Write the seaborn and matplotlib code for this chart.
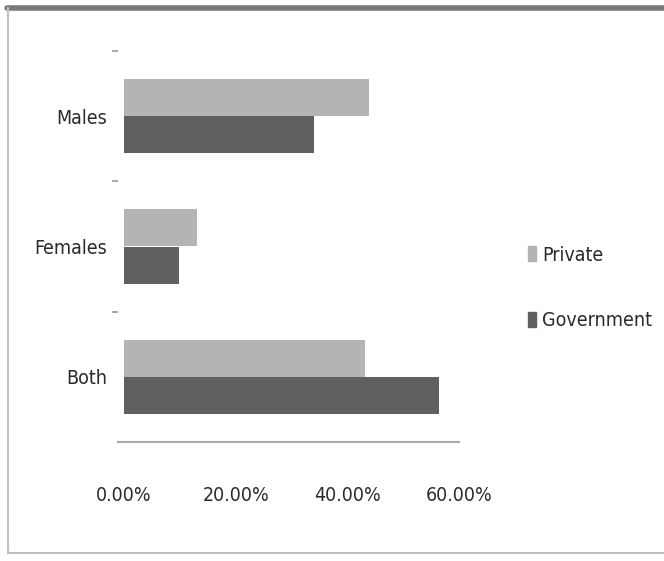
import pandas as pd
import seaborn as sns
import matplotlib.pyplot as plt
from matplotlib.lines import Line2D
from matplotlib.ticker import FuncFormatter, FixedLocator

# Data
groups = ['Males', 'Females', 'Both']
private = [0.439, 0.130, 0.432]
government = [0.341, 0.098, 0.564]
sectors = ['Private', 'Government']
colors = ['#b3b4b3', '#5f605f']

df = pd.DataFrame({
    'group': groups * 2,
    'sector': ['Private'] * 3 + ['Government'] * 3,
    'share': private + government,
})

sns.set_style('white')
plt.rcParams['font.family'] = ['DejaVu Sans']
plt.rcParams['font.stretch'] = 'condensed'

fig = plt.figure(figsize=(6.64, 5.61), dpi=100)
ax = fig.add_axes([118 / 664, 119 / 561, 341 / 664, 391 / 561])

sns.barplot(data=df, y='group', x='share', hue='sector', hue_order=sectors,
            order=groups, palette=colors, orient='h', width=0.57,
            saturation=1, linewidth=0, ax=ax, legend=False)

ax.set_xlim(-0.0107, 0.6)
ax.set_ylim(2.5, -0.5)
ax.set_xticks([0, 0.2, 0.4, 0.6])
ax.xaxis.set_major_formatter(FuncFormatter(lambda v, p: f'{v * 100:.2f}%'))
ax.tick_params(axis='x', length=0, pad=32, labelsize=14, labelcolor='#2a2a2a')
ax.tick_params(axis='y', which='major', length=0, pad=8, labelsize=14,
               labelcolor='#2a2a2a')
ax.yaxis.set_minor_locator(FixedLocator([-0.5, 0.5, 1.5]))
ax.tick_params(axis='y', which='minor', length=4, width=1.2, color='#999999',
               left=True)
ax.set_xlabel('')
ax.set_ylabel('')
for s in ['top', 'right', 'left']:
    ax.spines[s].set_visible(False)
ax.spines['bottom'].set_color('#aaaaaa')
ax.spines['bottom'].set_linewidth(1.5)

handles = [plt.Rectangle((0, 0), 1, 1, color=c) for c in colors]
fig.legend(handles, sectors, loc='center left',
           bbox_to_anchor=(510 / 664, (561 - 288) / 561), frameon=False,
           fontsize=14, handlelength=0.45, handleheight=0.8,
           handletextpad=0.3, labelspacing=2.4, labelcolor='#2a2a2a')

# outer frame of the original picture
fig.add_artist(Line2D([7 / 664, 1], [1 - 8 / 561] * 2, color='#7a7a7a', lw=4,
                      transform=fig.transFigure))
fig.add_artist(Line2D([8 / 664] * 2, [1 - 8 / 561, 8 / 561], color='#c0c0c0',
                      lw=1.5, transform=fig.transFigure))
fig.add_artist(Line2D([8 / 664, 1], [8 / 561] * 2, color='#c0c0c0', lw=1.5,
                      transform=fig.transFigure))

fig.savefig('out.png', dpi=100)
